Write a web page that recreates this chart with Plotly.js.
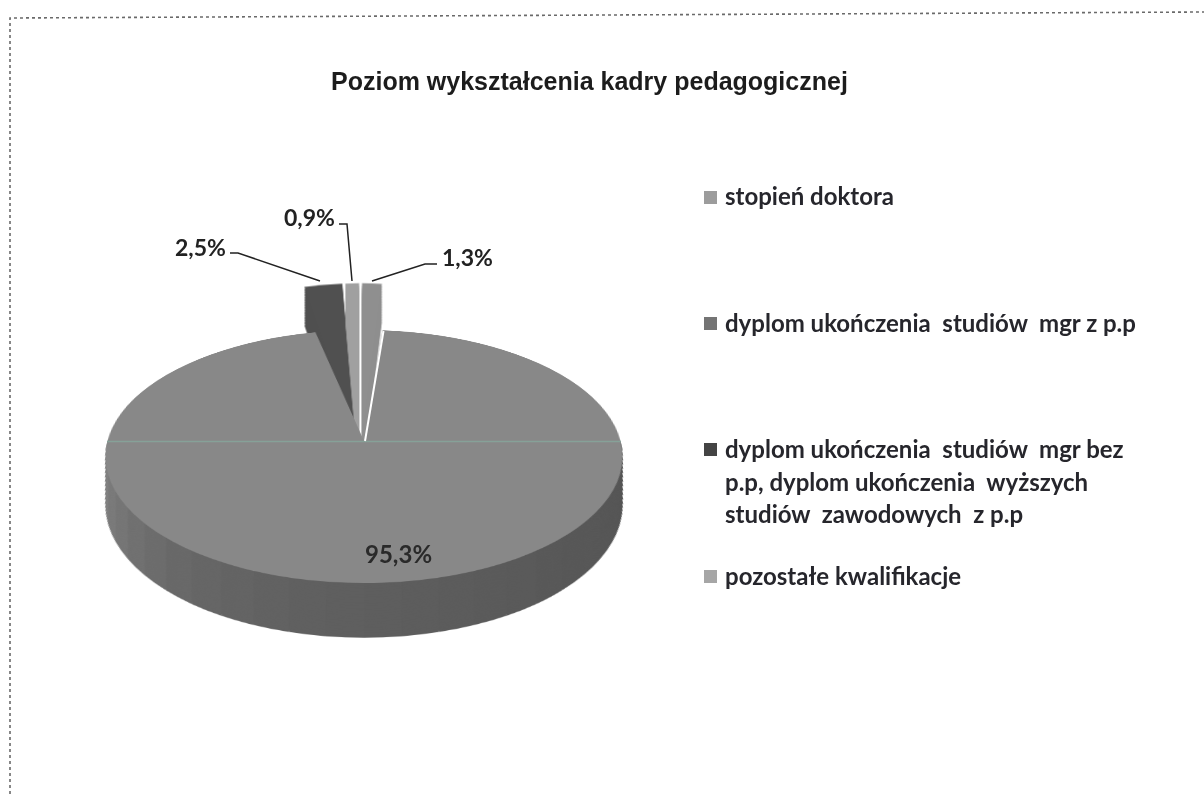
<!DOCTYPE html>
<html><head><meta charset="utf-8">
<script src="https://cdn.plot.ly/plotly-3.0.1.min.js"></script>
<style>
html,body{margin:0;padding:0;background:#fff;width:1204px;height:794px;overflow:hidden}
.layer{position:absolute;width:700px;height:700px}
#wall,#face{left:14px;top:91px;transform-origin:350px 350px;transform:matrix3d(1.026,0,0,0, 0,0.4984,0,-0.00049, 0,0,1,0, 0,0,0,1)}
#small{left:12px;top:91px;transform-origin:350px 350px;transform:scale(0.976,0.636)}
#chart{position:absolute;left:0;top:0;width:1204px;height:794px}
</style></head><body>
<div id="wall" class="layer"></div>
<div id="small" class="layer"></div>
<div id="face" class="layer"></div>
<div id="chart"></div>
<script>
const titleText = 'Poziom wykształcenia kadry pedagogicznej';
const categories = ['stopień doktora','dyplom ukończenia studiów mgr z p.p','dyplom ukończenia studiów mgr bez p.p, dyplom ukończenia wyższych studiów zawodowych z p.p','pozostałe kwalifikacje'];
const shares = [1.3, 95.3, 2.5, 0.9];
const sliceColors = ['#8f8f8f','#888888','#505050','#a0a0a0'];
const legendColors = ['#9c9c9c','#747474','#444444','#a6a6a6'];
const legendLines = [
  ['stopień doktora',196,0],
  ['dyplom ukończenia\u00a0 studiów\u00a0 mgr z p.p',322,1],
  ['dyplom ukończenia\u00a0 studiów\u00a0 mgr bez',448,2],
  ['p.p, dyplom ukończenia\u00a0 wyższych',481,-1],
  ['studiów\u00a0 zawodowych\u00a0 z p.p',513,-1],
  ['pozostałe kwalifikacje',575,3]
];
const wallShades = ['#565656','#565656','#575757','#575757','#585858','#585858','#595959','#5a5a5a','#5b5b5b','#5c5c5c','#5d5d5d','#5e5e5e','#5f5f5f','#606060','#626262','#646464','#666666','#696969','#6d6d6d','#717171','#767676','#7b7b7b','#808080','#858585','rgba(0,0,0,0)'];
const wallParts = [1,1,1,1,1,1,1,1,1,1,1,1,1,1,1,1,1,1,1,1,1,1,1,1,24];
const sliceShift = [0,0,-6.1,-3];
const k = 0.00049;

const S = 700;
const noBg = {paper_bgcolor:'rgba(0,0,0,0)',plot_bgcolor:'rgba(0,0,0,0)',margin:{l:0,r:0,t:0,b:0},width:S,height:S,showlegend:false};
const cfg = {displayModeBar:false,staticPlot:true};
const dom = (R,dx,dy)=>({x:[(S/2+dx-R)/S,(S/2+dx+R)/S],y:[1-(S/2+dy+R)/S,1-(S/2+dy-R)/S]});
const base = {type:'pie',sort:false,direction:'clockwise',rotation:0,textinfo:'none',hoverinfo:'skip'};

// side wall: front half of the disc, repeated downward
const wallTraces = [];
for (let d=92; d>=0; d-=2) {
  wallTraces.push({...base,values:wallParts,rotation:90,domain:dom(250*(1-k*d),0,d),
    marker:{colors:wallShades,line:{width:0}}});
}
Plotly.newPlot('wall',wallTraces,noBg,cfg);

// the three small slices with their own sides, behind the large one
const smallTraces = [];
[0,2,3].forEach(i=>{
  for (let d=62; d>=0; d-=4) {
    smallTraces.push({...base,values:shares,domain:dom(250,sliceShift[i],d),
      marker:{colors:sliceColors.map((c,j)=>j===i?c:'rgba(0,0,0,0)'),line:{width:0}}});
  }
});
Plotly.newPlot('small',smallTraces,noBg,cfg);

// top face of the large slice
Plotly.newPlot('face',[{...base,values:shares,domain:dom(250,0,0),
  marker:{colors:sliceColors.map((c,j)=>j===1?c:'rgba(0,0,0,0)'),line:{width:0}}}],noBg,cfg);

// text, legend, leader lines, frame
const lab = shares.map(v=>v.toFixed(1).replace('.',',')+'%');
const F = 'Lato, Carlito, "Noto Sans", sans-serif';
const px = v=>v/1204, py = v=>1-v/794;
const ann = [
 {text:'<b>'+titleText+'</b>',x:px(589),y:py(81),font:{family:'"Liberation Sans",Arial,sans-serif',size:25,color:'#1c1c1c'},xanchor:'center',yanchor:'middle'},
 {text:'<b>'+lab[2]+'</b>',x:px(200.5),y:py(247),font:{family:F,size:23,color:'#222'},xanchor:'center',yanchor:'middle'},
 {text:'<b>'+lab[3]+'</b>',x:px(309.5),y:py(217),font:{family:F,size:23,color:'#222'},xanchor:'center',yanchor:'middle'},
 {text:'<b>'+lab[0]+'</b>',x:px(467),y:py(257),font:{family:F,size:23,color:'#222'},xanchor:'center',yanchor:'middle'},
 {text:'<b>'+lab[1]+'</b>',x:px(398),y:py(553),font:{family:F,size:24,color:'#2a2a2a'},xanchor:'center',yanchor:'middle'}
];
legendLines.forEach(l=>ann.push({text:'<b>'+l[0]+'</b>',x:px(723),y:py(l[1]),font:{family:F,size:24,color:'#26262c'},xanchor:'left',yanchor:'middle',align:'left'}));
ann.forEach(a=>{a.xref='paper';a.yref='paper';a.showarrow=false;});
const seg = (pts,w,c,dash)=>({type:'path',xref:'paper',yref:'paper',
  path:'M'+pts.map(p=>px(p[0])+','+py(p[1])).join('L'),line:{color:c,width:w,dash:dash||'solid'},fillcolor:'rgba(0,0,0,0)'});
const shapes = [
 seg([[230,253],[238,253],[320,281]],1.5,'#222'),
 seg([[339,224],[347,224],[352,281]],1.5,'#222'),
 seg([[437,264],[425,264],[372,281]],1.5,'#222'),
 seg([[10,794],[10,18],[1204,12]],1.6,'#6a6a6a','dot'),
 seg([[107,441.5],[621,441.5]],1.5,'#86a198'),
 seg([[365,441],[383.5,331]],2,'#ffffff')
];
legendLines.filter(l=>l[2]>=0).forEach(l=>shapes.push({type:'rect',xref:'paper',yref:'paper',
  x0:px(704),x1:px(717),y0:py(l[1]+8),y1:py(l[1]-5),fillcolor:legendColors[l[2]],line:{width:0}}));
Plotly.newPlot('chart',[],{width:1204,height:794,margin:{l:0,r:0,t:0,b:0},paper_bgcolor:'rgba(0,0,0,0)',plot_bgcolor:'rgba(0,0,0,0)',
 xaxis:{visible:false},yaxis:{visible:false},annotations:ann,shapes:shapes},cfg);
</script>
</body></html>
